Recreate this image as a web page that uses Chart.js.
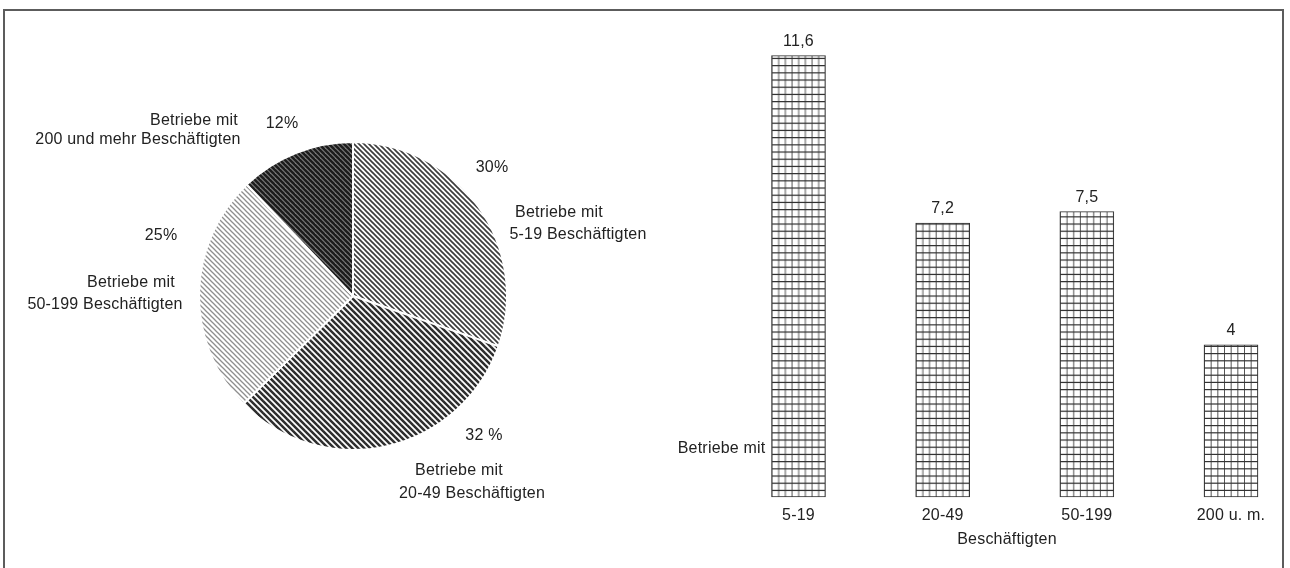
<!DOCTYPE html>
<html>
<head>
<meta charset="utf-8">
<script src="https://cdn.jsdelivr.net/npm/chart.js@4.4.1/dist/chart.umd.min.js"></script>
<style>
  html, body { margin: 0; padding: 0; background: #fff; }
  #wrap { position: relative; width: 1290px; height: 568px; overflow: hidden; background: #fff; }
  #wrap canvas { position: absolute; left: 0; top: 0; }
  #frame { position: absolute; left: 3px; top: 9px; width: 1281px; height: 620px;
           border: 2px solid #5c5c5c; box-sizing: border-box; }
</style>
</head>
<body>
<div id="wrap">
  <div id="frame"></div>
  <canvas id="pie" width="1290" height="568"></canvas>
  <canvas id="bars" width="1290" height="568"></canvas>
</div>
<script>
// Anteil der Betriebe nach Größenklasse (Kreis)
const pieCategories = [
  ['Betriebe mit', '5-19 Beschäftigten'],
  ['Betriebe mit', '20-49 Beschäftigten'],
  ['Betriebe mit', '50-199 Beschäftigten'],
  ['Betriebe mit', '200 und mehr Beschäftigten']
];
const pieValues = [30, 32, 25, 12];
const pieValueSuffix = ['%', ' %', '%', '%'];

// Werte je Größenklasse (Säulen)
const barCategories = ['5-19', '20-49', '50-199', '200 u. m.'];
const barValues = [11.6, 7.2, 7.5, 4];
const barAxisPrefix = 'Betriebe mit';
const barAxisTitle = 'Beschäftigten';

const FONT = '16px "Liberation Sans", Arial, sans-serif';
const TEXT = '#222222';

function drawText(ctx, str, x, y, align) {
  ctx.save();
  ctx.font = FONT;
  ctx.fillStyle = TEXT;
  ctx.textAlign = align || 'center';
  ctx.textBaseline = 'alphabetic';
  try { ctx.letterSpacing = '0.2px'; } catch (e) {}
  ctx.fillText(str, x, y);
  ctx.restore();
}

// diagonal hatching, lines running down to the right
function stripes(ctx, period, width, fg, bg) {
  const c = document.createElement('canvas');
  c.width = period; c.height = period;
  const g = c.getContext('2d');
  g.fillStyle = bg; g.fillRect(0, 0, period, period);
  g.strokeStyle = fg; g.lineWidth = width;
  for (const k of [-period, 0, period]) {
    g.beginPath();
    g.moveTo(k - 1, -1);
    g.lineTo(k + period + 1, period + 1);
    g.stroke();
  }
  return ctx.createPattern(c, 'repeat');
}

// fine square grid used to fill the columns
function gridTile(ctx) {
  const w = 20, h = 36;
  const c = document.createElement('canvas');
  c.width = w; c.height = h;
  const g = c.getContext('2d');
  g.fillStyle = '#fff'; g.fillRect(0, 0, w, h);
  g.strokeStyle = '#555555'; g.lineWidth = 1.0;
  for (let i = 0; i < 3; i++) {
    const x = i * w / 3 + 0.5;
    g.beginPath(); g.moveTo(x, 0); g.lineTo(x, h); g.stroke();
  }
  g.strokeStyle = '#333333'; g.lineWidth = 1.2;
  for (let j = 0; j < 5; j++) {
    const y = j * h / 5 + 0.6;
    g.beginPath(); g.moveTo(0, y); g.lineTo(w, y); g.stroke();
  }
  return ctx.createPattern(c, 'repeat');
}

// ---------- Kreisdiagramm ----------
const pieCtx = document.getElementById('pie').getContext('2d');
const piePatterns = [
  stripes(pieCtx, 5, 1.7, '#3d3d3d', '#ffffff'),
  stripes(pieCtx, 6, 2.5, '#2e2e2e', '#ffffff'),
  stripes(pieCtx, 5, 1.3, '#8e8e8e', '#ffffff'),
  stripes(pieCtx, 5, 2.4, '#1c1c1c', '#7c7c7c')
];

// label anchors per slice: percentage, then the two caption lines (x centre, baseline)
const pieLabelPos = [
  { pct: [492, 172], lines: [[559, 217], [578, 239]] },
  { pct: [484, 440], lines: [[459, 475], [472, 498]] },
  { pct: [161, 240], lines: [[131, 287], [105, 309]] },
  { pct: [282, 128], lines: [[194, 125], [138, 144]] }
];

const pieText = {
  id: 'pieText',
  afterDraw(chart) {
    const ctx = chart.ctx;
    pieValues.forEach((v, i) => {
      const p = pieLabelPos[i];
      drawText(ctx, v + pieValueSuffix[i], p.pct[0], p.pct[1]);
      pieCategories[i].forEach((line, k) => drawText(ctx, line, p.lines[k][0], p.lines[k][1]));
    });
  }
};

new Chart(pieCtx, {
  type: 'pie',
  data: {
    labels: pieCategories,
    datasets: [{
      data: pieValues,
      backgroundColor: piePatterns,
      borderColor: '#ffffff',
      borderWidth: 2
    }]
  },
  options: {
    responsive: false,
    animation: false,
    events: [],
    radius: 154,
    layout: { padding: { left: 200, right: 784, top: 143, bottom: 119 } },
    plugins: { legend: { display: false }, tooltip: { enabled: false } }
  },
  plugins: [pieText]
});

// ---------- Säulendiagramm ----------
const barCtx = document.getElementById('bars').getContext('2d');

const barText = {
  id: 'barText',
  afterDatasetsDraw(chart) {
    const ctx = chart.ctx;
    const meta = chart.getDatasetMeta(0);
    meta.data.forEach((el, i) => {
      drawText(ctx, String(barValues[i]).replace('.', ','), el.x, el.y - 10);
      drawText(ctx, barCategories[i], el.x, el.base + 23);
    });
    const first = meta.data[0];
    drawText(ctx, barAxisPrefix, first.x - first.width / 2 - 6, first.base - 44, 'right');
    drawText(ctx, barAxisTitle, 1007, first.base + 47);
  }
};

const barChart = new Chart(barCtx, {
  type: 'bar',
  data: {
    labels: barCategories,
    datasets: [{
      data: barValues,
      backgroundColor: '#ffffff',
      borderColor: '#333333',
      borderWidth: 1,
      borderSkipped: false,
      barThickness: 54,
      clip: false
    }]
  },
  options: {
    responsive: false,
    animation: false,
    events: [],
    layout: { padding: { left: 798.5, right: 59, top: 40.4, bottom: 71 } },
    scales: {
      x: { display: false, offset: false },
      y: { display: false, min: 0, max: 12 }
    },
    plugins: { legend: { display: false }, tooltip: { enabled: false } }
  },
  plugins: [barText]
});

// anchor the grid fill to each column's lower-left corner
const barMeta = barChart.getDatasetMeta(0);
barChart.data.datasets[0].backgroundColor = barMeta.data.map(el => {
  const p = gridTile(barCtx);
  p.setTransform(new DOMMatrix().translate(el.x - el.width / 2, el.base));
  return p;
});
barChart.update('none');
</script>
</body>
</html>
